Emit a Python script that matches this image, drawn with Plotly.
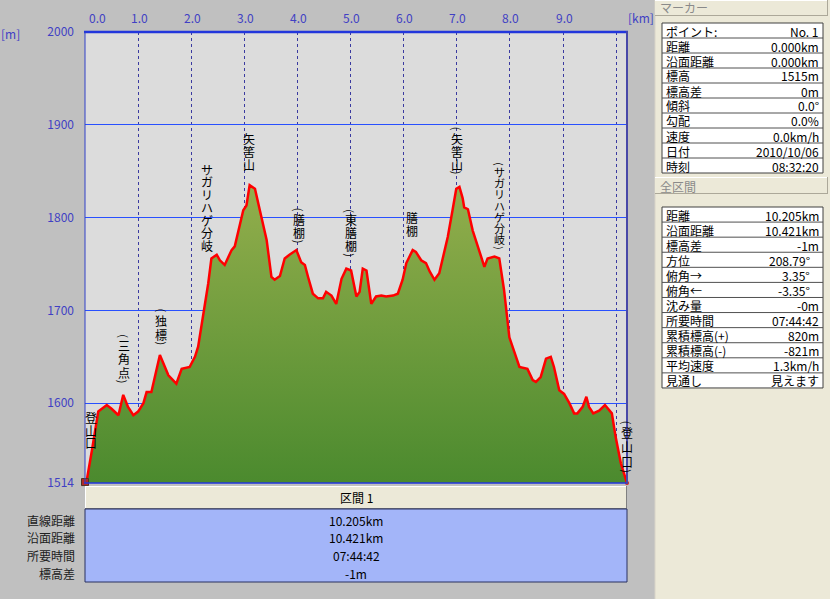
import plotly.graph_objects as go

# ---------------- data ----------------
profile_km = [0.00, 0.03, 0.13, 0.22, 0.25, 0.41, 0.50, 0.63, 0.72, 0.81, 0.91, 1.00, 1.10, 1.16, 1.25,
              1.41, 1.57, 1.72, 1.82, 1.97, 2.07, 2.13, 2.22, 2.32, 2.38, 2.48, 2.54, 2.63, 2.76, 2.82,
              2.98, 3.04, 3.10, 3.20, 3.32, 3.42, 3.51, 3.57, 3.67, 3.76, 3.85, 3.98, 4.07, 4.14, 4.20,
              4.29, 4.39, 4.48, 4.54, 4.64, 4.73, 4.83, 4.92, 5.01, 5.11, 5.17, 5.23, 5.30, 5.39, 5.48,
              5.58, 5.67, 5.80, 5.89, 5.98, 6.05, 6.17, 6.23, 6.33, 6.42, 6.49, 6.58, 6.67, 6.77, 6.83,
              6.92, 6.99, 7.05, 7.11, 7.14, 7.21, 7.30, 7.39, 7.52, 7.58, 7.71, 7.80, 7.89, 7.99, 8.11,
              8.18, 8.33, 8.43, 8.49, 8.58, 8.68, 8.77, 8.83, 8.93, 9.02, 9.12, 9.21, 9.27, 9.37, 9.44,
              9.49, 9.57, 9.68, 9.79, 9.92, 9.99, 10.09, 10.205]
profile_elev = [1515, 1516, 1549, 1582, 1591, 1598, 1594, 1587, 1609, 1596, 1587, 1591, 1600, 1612, 1612,
                1652, 1630, 1621, 1637, 1639, 1650, 1661, 1693, 1729, 1756, 1760, 1754, 1749, 1765, 1769,
                1808, 1813, 1835, 1831, 1801, 1776, 1736, 1733, 1737, 1756, 1760, 1765, 1752, 1749, 1736,
                1718, 1713, 1713, 1720, 1716, 1707, 1734, 1745, 1743, 1715, 1720, 1745, 1743, 1707, 1715,
                1716, 1715, 1716, 1718, 1733, 1751, 1765, 1763, 1754, 1751, 1742, 1733, 1740, 1765, 1779,
                1808, 1831, 1833, 1821, 1811, 1809, 1786, 1770, 1747, 1756, 1758, 1756, 1722, 1671, 1652,
                1639, 1637, 1625, 1623, 1628, 1648, 1650, 1639, 1614, 1610, 1600, 1589, 1589, 1596, 1607,
                1596, 1589, 1592, 1598, 1589, 1564, 1535, 1514]

y_ticks = [1514, 1600, 1700, 1800, 1900, 2000]
x_ticks = [0, 1, 2, 3, 4, 5, 6, 7, 8, 9]
x_ticktext = ["0.0", "1.0", "2.0", "3.0", "4.0", "5.0", "6.0", "7.0", "8.0", "9.0"]

label_names = ["登山口", "(三角点)", "(独標)", "サガリハゲ分岐", "矢筈山", "(膳棚)",
               "(東膳棚)", "膳棚", "(矢筈山)", "(サガリハゲ分岐)", "(登山口)"]
label_km = [0.11, 0.73, 1.44, 2.30, 3.08, 4.03, 5.00, 6.15, 7.01, 7.80, 10.20]
label_top_elev = [1591, 1675, 1702, 1859, 1892, 1811, 1810, 1807, 1898, 1861, 1582]

section_labels = ["直線距離", "沿面距離", "所要時間", "標高差"]
section_values = ["10.205km", "10.421km", "07:44:42", "-1m"]

marker_labels = ["ポイント:", "距離", "沿面距離", "標高", "標高差", "傾斜", "勾配", "速度", "日付", "時刻"]
marker_values = ["No. 1", "0.000km", "0.000km", "1515m", "0m", "0.0°", "0.0%", "0.0km/h", "2010/10/06", "08:32:20"]

total_labels = ["距離", "沿面距離", "標高差", "方位", "俯角→", "俯角←", "沈み量", "所要時間",
                "累積標高(+)", "累積標高(-)", "平均速度", "見通し"]
total_values = ["10.205km", "10.421km", "-1m", "208.79°", "3.35°", "-3.35°", "-0m", "07:44:42",
                "820m", "-821m", "1.3km/h", "見えます"]

# ---------------- layout helpers ----------------
W, H = 830, 599
FONT = "Noto Sans CJK JP"
BLUE_TXT = "#4040c4"


def X(p):
    return p / W


def Y(p):
    return 1 - p / H


def txt(px, py, s, anchor="left", color="#000000", size=12):
    return dict(x=X(px), y=Y(py), xref="paper", yref="paper", text=s, showarrow=False,
                xanchor=anchor, yanchor="middle", font=dict(color=color, size=size, family=FONT))


def rect(x0, y0, x1, y1, fill=None, line=None, lw=1, layer="above"):
    d = dict(type="rect", xref="paper", yref="paper", x0=X(x0), x1=X(x1), y0=Y(y0), y1=Y(y1),
             layer=layer, line=dict(width=lw if line else 0, color=line or "rgba(0,0,0,0)"))
    if fill:
        d["fillcolor"] = fill
    return d


def hline(x0, x1, y, color, lw=1):
    return dict(type="line", xref="paper", yref="paper", x0=X(x0), x1=X(x1), y0=Y(y), y1=Y(y),
                line=dict(color=color, width=lw), layer="above")


def vline(x, y0, y1, color, lw=1, dash="solid"):
    return dict(type="line", xref="paper", yref="paper", x0=X(x), x1=X(x), y0=Y(y0), y1=Y(y1),
                line=dict(color=color, width=lw, dash=dash), layer="above")


fig = go.Figure()
fig.add_trace(go.Scatter(
    x=profile_km, y=profile_elev, mode="lines",
    line=dict(color="#ff0000", width=2.5),
    fill="tozeroy",
    fillgradient=dict(type="vertical", colorscale=[[0, "#4b8a2e"], [1, "#93ae4c"]], start=1514, stop=1835),
    hoverinfo="skip", showlegend=False))
# start marker (hiker) and end marker
fig.add_trace(go.Scatter(x=[profile_km[0]], y=[profile_elev[0]], mode="markers",
                         marker=dict(symbol="square", size=7, color="#b02828", line=dict(color="#503020", width=1)),
                         cliponaxis=False, hoverinfo="skip", showlegend=False))
fig.add_trace(go.Scatter(x=[profile_km[-1]], y=[profile_elev[-1]], mode="markers",
                         marker=dict(symbol="circle", size=4, color="#d02020"),
                         cliponaxis=False, hoverinfo="skip", showlegend=False))

shapes = []
annotations = []

# plot borders
shapes.append(hline(84, 628, 32, "#2236dc", 2.5))
shapes.append(hline(84, 628, 483, "#2236dc", 1.5))
shapes.append(vline(85, 32, 483, "#3040c8", 1))
shapes.append(vline(627, 31, 484, "#4848a8", 2))

# right panel
shapes.append(rect(655, 0, 830, 599, fill="#ECE9D8"))
shapes.append(vline(655, 0, 599, "#d8d4c8", 1))
# header bars
for (y0, y1) in [(0, 16), (177, 194)]:
    shapes.append(rect(655, y0, 828, y1, fill="#ECE9D8"))
    shapes.append(hline(655, 828, y0 + 0.5, "#ffffff"))
    shapes.append(hline(655, 828, y1 - 0.5, "#aca899"))
    shapes.append(vline(827.5, y0, y1, "#aca899"))
annotations.append(txt(658, 8, "マーカー", color="#8a8a8a"))
annotations.append(txt(658, 186, "全区間", color="#8a8a8a"))

# marker table
t1_top, t1_h = 23, 15
shapes.append(rect(662, t1_top, 823, t1_top + t1_h * len(marker_labels), fill="#ffffff", line="#404040"))
for i in range(1, len(marker_labels)):
    shapes.append(hline(662, 823, t1_top + t1_h * i, "#505050"))
for i, (lab, val) in enumerate(zip(marker_labels, marker_values)):
    yc = t1_top + t1_h * i + 8
    annotations.append(txt(664, yc, lab))
    annotations.append(txt(821, yc, val, anchor="right"))

# total table
t2_top, t2_h = 207, 15.08
shapes.append(rect(662, t2_top, 823, t2_top + t2_h * len(total_labels), fill="#ffffff", line="#404040"))
for i in range(1, len(total_labels)):
    shapes.append(hline(662, 823, t2_top + t2_h * i, "#505050"))
for i, (lab, val) in enumerate(zip(total_labels, total_values)):
    yc = t2_top + t2_h * i + 8
    annotations.append(txt(664, yc, lab))
    xr = 812 if "°" in val else 821
    annotations.append(txt(xr, yc, val, anchor="right"))

# bottom section table
shapes.append(rect(85, 486, 627, 509, fill="#ECE9D8"))
shapes.append(hline(85, 627, 486.5, "#ffffff"))
shapes.append(vline(85.5, 486, 509, "#ffffff"))
shapes.append(hline(85, 627, 508.5, "#808080"))
shapes.append(vline(626.5, 486, 509, "#808080"))
annotations.append(txt(356, 497.5, "区間 1", anchor="center"))
shapes.append(rect(85, 509, 627, 582, fill="#a3b5f9", line="#283060"))
row_y = [520, 537.5, 555, 573]
for lab, val, yc in zip(section_labels, section_values, row_y):
    annotations.append(txt(77, yc, lab, anchor="right", color="#202020"))
    annotations.append(txt(356, yc, val, anchor="center"))

# x tick labels (top) via x data scale
for v, t in zip(x_ticks, x_ticktext):
    annotations.append(dict(x=v, y=Y(17), xref="x", yref="paper", text=t, showarrow=False,
                            xanchor="center", yanchor="middle", xshift=12 if v == 0 else 1,
                            font=dict(color=BLUE_TXT, size=12, family=FONT)))
annotations.append(txt(641, 17, "[km]", anchor="center", color=BLUE_TXT))
annotations.append(txt(10, 33, "[m]", anchor="center", color=BLUE_TXT))

# vertical waypoint labels, one glyph per annotation (parentheses rotated)
pitches = [12.5, 13.5, 14, 12.7, 13, 13.5, 13, 13, 13, 11.3, 14.5]
fsizes = [12, 12, 12, 12, 12, 12, 12, 12, 12, 11, 12]
for name, km, top, pitch, fs in zip(label_names, label_km, label_top_elev, pitches, fsizes):
    off = 0.0
    for ch in name:
        is_paren = ch in "()"
        h = 5.0 if is_paren else pitch
        c = off + h / 2
        annotations.append(dict(x=km, y=top, xref="x", yref="y", text=ch, showarrow=False,
                                xanchor="center", yanchor="middle", yshift=-c,
                                textangle=90 if is_paren else 0,
                                font=dict(color="#000000", size=fs - 1 if is_paren else fs, family=FONT)))
        off += h

fig.update_layout(
    width=W, height=H, margin=dict(l=0, r=0, t=0, b=0, pad=0), autosize=False,
    paper_bgcolor="#C0C0C0", plot_bgcolor="#DCDCDC",
    showlegend=False,
    xaxis=dict(domain=[X(85), X(627)], range=[0, 10.205], tickvals=list(range(0, 11)),
               showticklabels=False, showgrid=True, gridcolor="#3a3aa0", griddash="dot", gridwidth=1,
               zeroline=False, showline=False, ticks="", fixedrange=True, automargin=False),
    yaxis=dict(domain=[Y(483), Y(32)], range=[1514, 2000], tickvals=y_ticks,
               ticktext=[str(v) for v in y_ticks], tickfont=dict(color=BLUE_TXT, size=12, family=FONT),
               showgrid=True, gridcolor="#2850ff", gridwidth=1, zeroline=False, showline=False,
               ticks="", ticklabelstandoff=10, fixedrange=True, automargin=False),
    shapes=shapes, annotations=annotations,
)

fig.write_html("out.html", config={"displayModeBar": False},
               post_script="document.body.style.margin='0';document.body.style.overflow='hidden';")
